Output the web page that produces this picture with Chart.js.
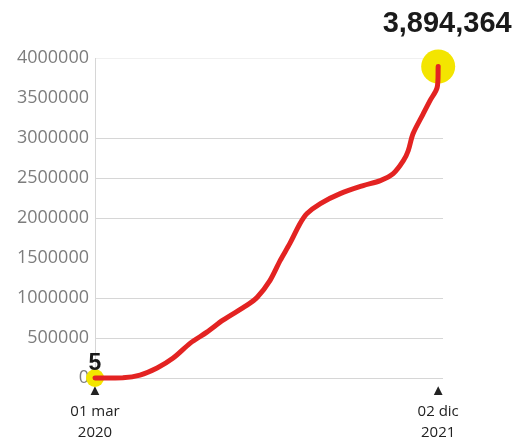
<!DOCTYPE html>
<html>
<head>
<meta charset="utf-8">
<script src="https://cdn.jsdelivr.net/npm/chart.js@4/dist/chart.umd.min.js"></script>
<style>
    html, body { margin: 0; padding: 0; background: #fff; }
    #wrap { width: 524px; height: 444px; position: relative; }
</style>
</head>
<body>
<div id="wrap"><canvas id="casesChart"></canvas></div>
<script>
// Data (cumulative cases)
const dates = [
    '2020-03-01', '2020-04-22', '2020-05-24', '2020-06-25', '2020-07-25', '2020-08-26',
    '2020-09-26', '2020-10-26', '2020-12-10', '2020-12-29', '2021-01-22', '2021-02-10',
    '2021-02-28', '2021-03-19', '2021-04-01', '2021-04-26', '2021-06-02', '2021-07-15',
    '2021-08-16', '2021-09-09', '2021-09-28', '2021-10-07', '2021-10-16', '2021-11-04',
    '2021-11-17', '2021-11-30', '2021-12-02'
];
const cases = [
    5, 3000, 37000, 125000, 249000, 436000,
    573000, 723000, 910000, 1009000, 1221000, 1470000,
    1682000, 1931000, 2056000, 2181000, 2305000, 2405000,
    2467000, 2554000, 2716000, 2841000, 3053000, 3302000,
    3470000, 3630000, 3894364
];
const yTicks = [0, 500000, 1000000, 1500000, 2000000, 2500000, 3000000, 3500000, 4000000];
const hiddenGrid = [1500000, 3500000];
const xTickLabels = [['▲', '01 mar', '2020'], ['▲', '02 dic', '2021']];

const DAY = 86400000;
const start = new Date(dates[0] + 'T00:00:00Z').getTime();
const days = dates.map(d => Math.round((new Date(d + 'T00:00:00Z').getTime() - start) / DAY));
const points = days.map((d, i) => ({ x: d, y: cases[i] }));
const lastIdx = points.length - 1;
const markers = [points[0], points[lastIdx]];

const RED = '#e32322';
const YELLOW = '#f3e500';

const labelPlugin = {
    id: 'pointLabels',
    afterDatasetsDraw(chart) {
        const { ctx, scales } = chart;
        const x0 = scales.x.getPixelForValue(points[0].x);
        const y0 = scales.y.getPixelForValue(points[0].y);
        const x1 = scales.x.getPixelForValue(points[lastIdx].x);
        ctx.save();
        ctx.fillStyle = '#1a1a1a';
        ctx.textAlign = 'center';
        ctx.textBaseline = 'alphabetic';
        ctx.font = 'bold 23px "Liberation Sans", Arial, sans-serif';
        ctx.fillText(cases[0].toLocaleString('en-US'), x0, y0 - 8);
        ctx.font = 'bold 29px "Liberation Sans", Arial, sans-serif';
        ctx.fillText(cases[lastIdx].toLocaleString('en-US'), x1 + 9, 32);
        ctx.restore();
    }
};

const ctx = document.getElementById('casesChart').getContext('2d');
new Chart(ctx, {
    type: 'line',
    data: {
        datasets: [
            {
                data: points,
                borderColor: RED,
                borderWidth: 5,
                tension: 0.3,
                pointRadius: 0,
                borderCapStyle: 'round',
                borderJoinStyle: 'round',
                order: 1,
                clip: false
            },
            {
                data: markers,
                showLine: false,
                pointRadius: [9, 17],
                pointBackgroundColor: YELLOW,
                pointBorderWidth: 0,
                order: 2,
                clip: false
            }
        ]
    },
    options: {
        responsive: true,
        maintainAspectRatio: false,
        animation: false,
        events: [],
        layout: { padding: { top: 58, right: 81, bottom: 0, left: 0 } },
        plugins: {
            legend: { display: false },
            tooltip: { enabled: false }
        },
        scales: {
            x: {
                type: 'linear',
                min: 0,
                max: 650,
                afterBuildTicks: s => { s.ticks = [{ value: days[0] }, { value: days[lastIdx] }]; },
                afterFit: s => { s.height = 66; },
                ticks: {
                    autoSkip: false,
                    maxRotation: 0,
                    padding: 2,
                    color: '#222',
                    font: { family: '"Open Sans", sans-serif', size: 15, lineHeight: 1.4 },
                    callback: (v, i) => xTickLabels[i]
                },
                grid: { display: false, drawTicks: false },
                border: { display: false }
            },
            y: {
                min: 0,
                max: 4000000,
                afterBuildTicks: s => { s.ticks = yTicks.map(v => ({ value: v })); },
                afterFit: s => { s.width = 95; },
                ticks: {
                    padding: 6,
                    color: '#7d7d7d',
                    font: { family: '"Open Sans", sans-serif', size: 18 },
                    callback: v => String(v)
                },
                grid: {
                    drawTicks: false,
                    lineWidth: 1,
                    color: c => {
                        const v = c.tick ? c.tick.value : null;
                        if (hiddenGrid.includes(v)) return 'rgba(0,0,0,0)';
                        if (v === 4000000) return '#f0f0f0';
                        return '#d6d6d6';
                    }
                },
                border: { display: true, color: '#d6d6d6' }
            }
        }
    },
    plugins: [labelPlugin]
});
</script>
</body>
</html>
